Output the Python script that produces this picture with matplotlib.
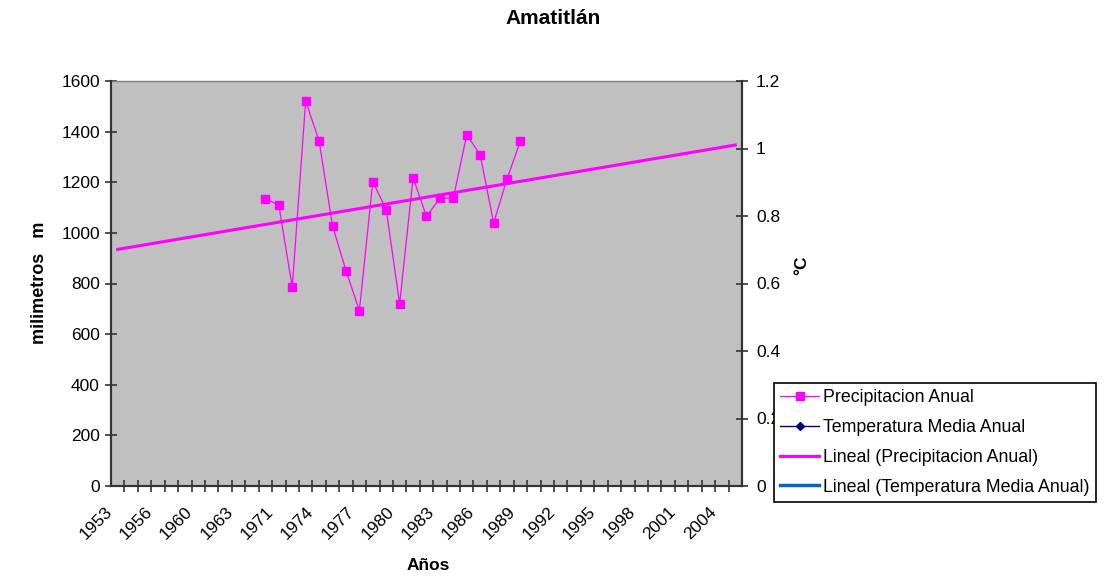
import numpy as np
import matplotlib.pyplot as plt
from matplotlib.ticker import FixedLocator, FuncFormatter
import matplotlib.transforms as mtransforms

plt.rcParams["font.family"] = ["Liberation Sans", "DejaVu Sans"]

# category axis (one slot per year, gaps in the early record)
years = [1953, 1954, 1955, 1956, 1957, 1958, 1960, 1961, 1962, 1963, 1964, 1970] + list(
    range(1971, 2006)
)
label_step = 3

# annual rainfall, mm
precip_years = list(range(1970, 1990))
precip_mm = [
    1135, 1110, 786, 1521, 1363, 1028, 851, 693, 1202, 1092,
    720, 1218, 1065, 1137, 1137, 1388, 1308, 1039, 1214, 1363,
]

# mean annual temperature, °C (no records for this station)
temp_years = []
temp_c = []

MAGENTA = "#FF00FF"
NAVY = "#000080"
BLUE = "#0066CC"
AXIS = "#333333"

W, H = 1119, 579
fig = plt.figure(figsize=(W / 100, H / 100), dpi=100)


def px_rect(x0, y0, x1, y1):
    return [x0 / W, 1 - y1 / H, (x1 - x0) / W, (y1 - y0) / H]


ax = fig.add_axes(px_rect(111, 81, 742, 486))
ax.set_facecolor("#C0C0C0")
ax_r = ax.twinx()

n = len(years)
ax.set_xlim(-0.5, n - 0.5)
ax.set_ylim(0, 1600)
ax_r.set_ylim(0, 1.2)

# precipitation series + linear trend over the whole category range
px = np.array([years.index(y) for y in precip_years])
py = np.array(precip_mm)
(l_prec,) = ax.plot(
    px, py, color=MAGENTA, lw=0.9, marker="s", ms=5.5, mec=MAGENTA, mfc=MAGENTA,
    label="Precipitacion Anual",
)
slope, icpt = np.polyfit(px, py, 1)
tx = np.array([0, n - 1])
(l_trend,) = ax.plot(
    tx, slope * tx + icpt, color=MAGENTA, lw=2.2, label="Lineal (Precipitacion Anual)"
)

tx_t = [years.index(y) for y in temp_years]
(l_temp,) = ax_r.plot(
    tx_t, temp_c, color=NAVY, lw=1, marker="D", ms=4, label="Temperatura Media Anual"
)
(l_temp_trend,) = ax_r.plot(
    [], [], color=BLUE, lw=2.5, label="Lineal (Temperatura Media Anual)"
)

# spines
for s in ["left", "bottom", "right"]:
    ax.spines[s].set_color(AXIS)
    ax.spines[s].set_linewidth(1.5)
    ax_r.spines[s].set_color(AXIS)
    ax_r.spines[s].set_linewidth(1.5)
ax.spines["top"].set_color("#808080")
ax.spines["top"].set_linewidth(1)
ax_r.spines["top"].set_visible(False)

# x axis: tick marks between categories, labels every third category
ax.xaxis.set_minor_locator(FixedLocator(np.arange(0.5, n - 0.5, 1)))
ax.xaxis.set_major_locator(FixedLocator(range(0, n, label_step)))
ax.set_xticklabels([str(years[i]) for i in range(0, n, label_step)])
ax.tick_params(axis="x", which="major", length=0, pad=17, labelsize=12.5)
ax.tick_params(axis="x", which="minor", direction="inout", length=8, width=1.2, color=AXIS)
shift = mtransforms.ScaledTranslation(-8 / 100, 0, fig.dpi_scale_trans)
for lab in ax.get_xticklabels():
    lab.set_rotation(45)
    lab.set_ha("right")
    lab.set_va("center")
    lab.set_rotation_mode("anchor")
    lab.set_transform(lab.get_transform() + shift)

ax.set_yticks(range(0, 1601, 200))
ax.tick_params(axis="y", direction="inout", length=8, width=1.2, color=AXIS,
               labelsize=12.5, pad=4)
ax_r.set_yticks(np.arange(0, 1.21, 0.2))
ax_r.yaxis.set_major_formatter(FuncFormatter(lambda v, p: f"{v:g}"))
ax_r.tick_params(axis="y", direction="inout", length=8, width=1.2, color=AXIS,
                 labelsize=12.5, pad=6)

fig.text(553 / W, 1 - 18 / H, "Amatitlán", ha="center", va="center",
         fontsize=15, fontweight="bold")
fig.text(428 / W, 1 - 565 / H, "Años", ha="center", va="center",
         fontsize=12.5, fontweight="bold")
fig.text(40 / W, 1 - 283 / H, "milimetros   m", ha="center", va="center",
         rotation=90, fontsize=13, fontweight="bold")
fig.text(802 / W, 1 - 265 / H, "°C", ha="center", va="center",
         rotation=90, fontsize=12.5, fontweight="bold")

leg = fig.legend(
    handles=[l_prec, l_temp, l_trend, l_temp_trend],
    loc="upper left",
    bbox_to_anchor=(774 / W, 1 - 383 / H),
    fontsize=12.8,
    frameon=True,
    fancybox=False,
    framealpha=1,
    edgecolor="black",
    borderaxespad=0,
    borderpad=0.35,
    handlelength=2.2,
    handletextpad=0.2,
    labelspacing=0.72,
)
leg.get_frame().set_linewidth(1.2)

fig.savefig("out.png", dpi=100)
